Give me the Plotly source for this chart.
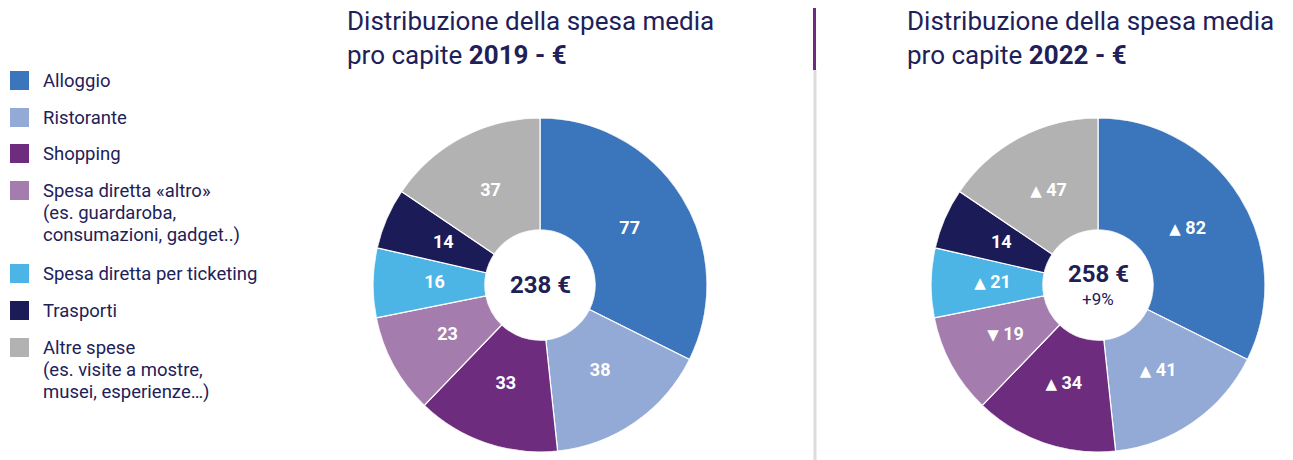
import plotly.graph_objects as go

# Categorie e valori
categorie = ["Alloggio", "Ristorante", "Shopping", "Spesa diretta «altro»",
             "Spesa diretta per ticketing", "Trasporti", "Altre spese"]
legenda = ["Alloggio", "Ristorante", "Shopping",
           "Spesa diretta «altro»\n(es. guardaroba,\nconsumazioni, gadget..)",
           "Spesa diretta per ticketing", "Trasporti",
           "Altre spese\n(es. visite a mostre,\nmusei, esperienze…)"]
valori_2019 = [77, 38, 33, 23, 16, 14, 37]
valori_2022 = [82, 41, 34, 19, 21, 14, 47]
variazione_2022 = ["up", "up", "up", "down", "up", "", "up"]
# nel grafico originale la torta 2022 riusa le proporzioni del 2019
quote_torta_2022 = valori_2019
totale_2019 = "238 €"
totale_2022 = "258 €"
delta_2022 = "+9%"

colori = ["#3B75BB", "#93A9D6", "#6D2C7D", "#A57CAE", "#4DB5E6", "#1B1B57", "#B2B2B2"]
navy = "#1E2157"
font = "Roboto"

tri = "<span style='font-family:DejaVu Sans;font-size:15px'>%s</span> "
arrow = {"up": tri % "▲", "down": tri % "▼", "": ""}
testi_2019 = [str(v) for v in valori_2019]
testi_2022 = [arrow[d] + str(v) for v, d in zip(valori_2022, variazione_2022)]

W, H = 1293, 460
HOLE = 0.33


def px(x):
    return x / W


def py(y):
    return 1 - y / H


def angoli(values):
    # centro e ampiezza di ogni spicchio in gradi
    tot = float(sum(values))
    mid, wid, acc = [], [], 0.0
    for v in values:
        mid.append((acc + v / 2) / tot * 360)
        wid.append(v / tot * 360)
        acc += v
    return mid, wid


fig = go.Figure()


def add_donut(values, texts, subplot):
    mid, wid = angoli(values)
    fig.add_trace(go.Barpolar(
        r=[1] * len(values), theta=mid, width=wid, subplot=subplot,
        marker=dict(color=colori, line=dict(color="white", width=1.2)),
        hovertext=categorie, hoverinfo="text", showlegend=False,
    ))
    fig.add_trace(go.Scatterpolar(
        r=[0.45] * len(values), theta=mid, mode="text", text=texts, subplot=subplot,
        textfont=dict(family=font, size=18, color="white", weight="bold"),
        hoverinfo="skip", showlegend=False,
    ))


add_donut(valori_2019, testi_2019, "polar")
add_donut(quote_torta_2022, testi_2022, "polar2")


def polar_layout(x0, x1):
    return dict(
        domain=dict(x=[px(x0), px(x1)], y=[py(452), py(118)]),
        hole=HOLE, bargap=0, bgcolor="rgba(0,0,0,0)",
        radialaxis=dict(range=[0, 1], visible=False),
        angularaxis=dict(rotation=90, direction="clockwise", visible=False),
    )


ann = []
# Titoli
for x, anno in [(345, "2019"), (905, "2022")]:
    ann.append(dict(x=px(x), y=py(4), xref="paper", yref="paper", xanchor="left", yanchor="top",
                    text=f"Distribuzione della spesa media<br>pro capite <b>{anno} - €</b>",
                    align="left", showarrow=False, font=dict(family=font, size=26, color=navy)))
# Centri
ann.append(dict(x=px(540), y=py(285), xref="paper", yref="paper", xanchor="center", yanchor="middle",
                text=f"<b>{totale_2019}</b>", showarrow=False, font=dict(family=font, size=24, color=navy)))
ann.append(dict(x=px(1098), y=py(274), xref="paper", yref="paper", xanchor="center", yanchor="middle",
                text=f"<b>{totale_2022}</b>", showarrow=False, font=dict(family=font, size=24, color=navy)))
ann.append(dict(x=px(1098), y=py(299), xref="paper", yref="paper", xanchor="center", yanchor="middle",
                text=delta_2022, showarrow=False, font=dict(family=font, size=17, color=navy)))

# Legenda manuale
shapes = []
tops = [71, 108, 144, 181, 264, 301, 338]
for lab, col, top in zip(legenda, colori, tops):
    shapes.append(dict(type="rect", xref="paper", yref="paper", x0=px(10), x1=px(29),
                       y0=py(top + 19), y1=py(top), fillcolor=col, line=dict(width=0)))
    for i, riga in enumerate(lab.split("\n")):
        ann.append(dict(x=px(41), y=py(top + 10 + 22 * i), xref="paper", yref="paper",
                        xanchor="left", yanchor="middle", text=riga, showarrow=False,
                        font=dict(family=font, size=18.5, color=navy)))

# Separatore
shapes.append(dict(type="line", xref="paper", yref="paper", x0=px(815), x1=px(815),
                   y0=py(70), y1=py(460), line=dict(color="#DCDCDC", width=3)))
shapes.append(dict(type="line", xref="paper", yref="paper", x0=px(814.5), x1=px(814.5),
                   y0=py(8), y1=py(70), line=dict(color="#6D2C7D", width=3)))

fig.update_layout(width=W, height=H, margin=dict(l=0, r=0, t=0, b=0),
                  paper_bgcolor="white", plot_bgcolor="white",
                  polar=polar_layout(373, 707), polar2=polar_layout(931, 1265),
                  annotations=ann, shapes=shapes)

fig.write_html("out.html", config={"displayModeBar": False},
               post_script="document.body.style.margin='0px';")
